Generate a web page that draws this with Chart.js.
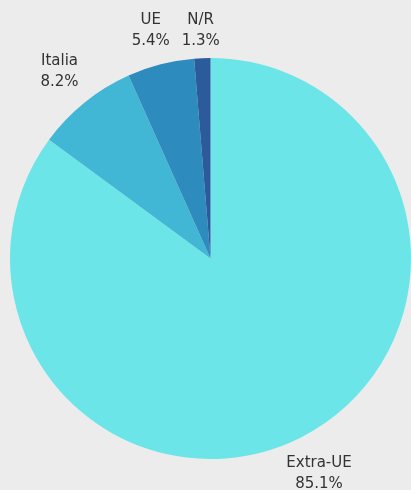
<!DOCTYPE html>
<html>
<head>
<meta charset="utf-8">
<script src="https://cdn.jsdelivr.net/npm/chart.js@4"></script>
<style>
  html, body { margin: 0; padding: 0; background: #ececec; }
  #wrap { width: 411px; height: 490px; }
</style>
</head>
<body>
<div id="wrap"><canvas id="pie"></canvas></div>
<script>
// origin of the records
const labels = ['Extra-UE', 'Italia', 'UE', 'N/R'];
const shares = [85.1, 8.2, 5.4, 1.3];
const colors = ['#6be5e8', '#42b7d5', '#2e8bbd', '#2b5b9b'];

// draws "name / value%" outside each slice
const outsideLabels = {
    id: 'outsideLabels',
    afterDatasetsDraw(chart) {
        const ctx = chart.ctx;
        const meta = chart.getDatasetMeta(0);
        ctx.save();
        ctx.fillStyle = '#333333';
        ctx.font = '15px "DejaVu Sans"';
        ctx.textAlign = 'center';
        ctx.textBaseline = 'middle';
        meta.data.forEach((arc, i) => {
            const mid = (arc.startAngle + arc.endAngle) / 2;
            const r = arc.outerRadius + 40;
            const x = arc.x + Math.cos(mid) * r;
            let y = arc.y + Math.sin(mid) * r;
            y = Math.max(y, 31);
            ctx.fillText(labels[i], x, y - 10.5);
            ctx.fillText(shares[i].toFixed(1) + '%', x, y + 10.5);
        });
        ctx.restore();
    }
};

new Chart(document.getElementById('pie'), {
    type: 'pie',
    data: {
        labels: labels,
        datasets: [{
            data: shares,
            backgroundColor: colors,
            borderWidth: 0
        }]
    },
    options: {
        responsive: true,
        maintainAspectRatio: false,
        animation: false,
        layout: { padding: { left: 10, right: 0, top: 57, bottom: 30 } },
        plugins: {
            legend: { display: false },
            tooltip: { enabled: false }
        }
    },
    plugins: [outsideLabels]
});
</script>
</body>
</html>
